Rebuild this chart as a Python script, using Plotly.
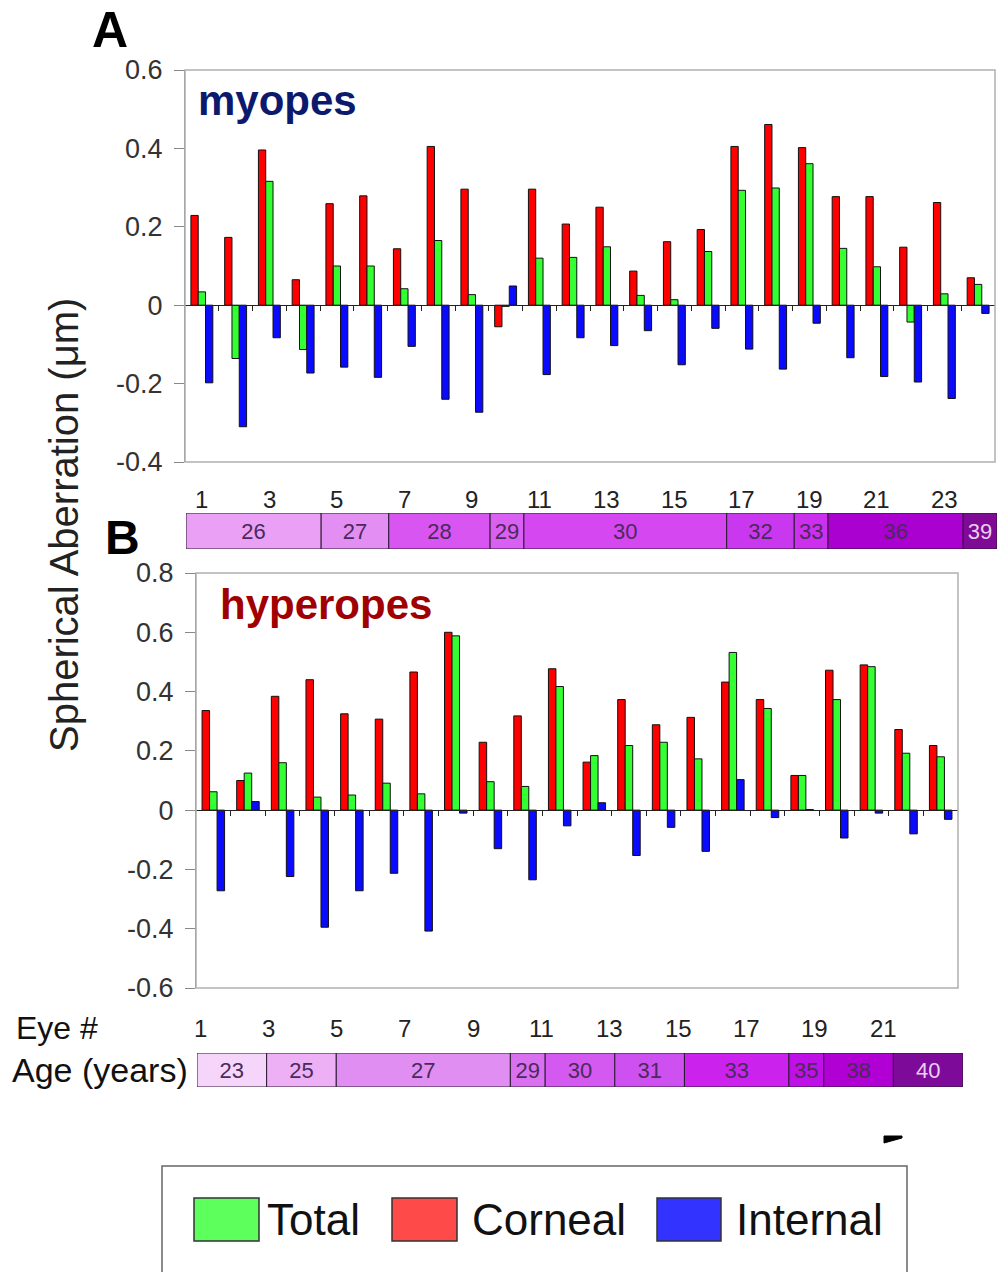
import plotly.graph_objects as go

W, H = 998, 1272

# ---------------- data ----------------
# Panel A: myopes (24 eyes)
eyes_a = list(range(1, 25))
corneal_a = [0.229, 0.173, 0.396, 0.065, 0.259, 0.279, 0.144, 0.405, 0.296, -0.055,
             0.296, 0.207, 0.250, 0.087, 0.162, 0.193, 0.405, 0.461, 0.402, 0.277,
             0.277, 0.148, 0.262, 0.070]
total_a = [0.034, -0.136, 0.316, -0.113, 0.100, 0.100, 0.042, 0.165, 0.027, -0.003,
           0.120, 0.122, 0.149, 0.025, 0.014, 0.137, 0.293, 0.299, 0.361, 0.145,
           0.098, -0.043, 0.029, 0.053]
internal_a = [-0.198, -0.310, -0.083, -0.173, -0.158, -0.184, -0.105, -0.240, -0.273, 0.049,
              -0.177, -0.083, -0.103, -0.065, -0.152, -0.059, -0.112, -0.163, -0.046, -0.134,
              -0.182, -0.196, -0.238, -0.021]
ages_a = [26, 27, 28, 29, 30, 32, 33, 36, 39]
age_counts_a = [4, 2, 3, 1, 6, 2, 1, 4, 1]

# Panel B: hyperopes (22 eyes)
eyes_b = list(range(1, 23))
corneal_b = [0.336, 0.100, 0.384, 0.440, 0.325, 0.307, 0.466, 0.600, 0.229, 0.318,
             0.477, 0.162, 0.373, 0.288, 0.313, 0.432, 0.373, 0.117, 0.472, 0.490,
             0.272, 0.218]
total_b = [0.062, 0.125, 0.160, 0.044, 0.051, 0.091, 0.055, 0.588, 0.096, 0.080,
           0.417, 0.184, 0.218, 0.229, 0.173, 0.532, 0.343, 0.117, 0.373, 0.484,
           0.192, 0.180]
internal_b = [-0.272, 0.029, -0.224, -0.395, -0.272, -0.213, -0.408, -0.010, -0.130, -0.235,
              -0.053, 0.025, -0.153, -0.058, -0.139, 0.103, -0.025, 0.002, -0.094, -0.010,
              -0.080, -0.031]
ages_b = [23, 25, 27, 29, 30, 31, 33, 35, 38, 40]
age_counts_b = [2, 2, 5, 1, 2, 2, 3, 1, 2, 2]

eye_labels = [1, 3, 5, 7, 9, 11, 13, 15, 17, 19, 21, 23]
ytick_a = [0.6, 0.4, 0.2, 0, -0.2, -0.4]
ytick_b = [0.8, 0.6, 0.4, 0.2, 0, -0.2, -0.4, -0.6]

series_names = ["Corneal", "Total", "Internal"]

# ---------------- styling ----------------
FONT = "Liberation Sans, Arial, sans-serif"
COL = {"Corneal": "#ff0000", "Total": "#33ff33", "Internal": "#0a0aff"}
LEG_COL = {"Total": "#5cff5c", "Corneal": "#ff4a4a", "Internal": "#3333ff"}
AGE_COL_A = ["#e9a0f5", "#e38ef3", "#d955f2", "#da60f3", "#d548f1", "#c938ee", "#cc30ee",
             "#aa00d0", "#7e0a96"]
AGE_COL_B = ["#f5d5fa", "#edb0f5", "#e18ef2", "#d970f0", "#d359f1", "#cf50f0", "#cc22ee",
             "#c010e8", "#b000d4", "#7e0a99"]


def px(x):
    return x / W


def py(y):
    return 1 - y / H


# panel geometry (pixels)
A_L, A_R, A_T, A_B = 185, 995, 70, 462
B_L, B_R, B_T, B_B = 196, 958, 573, 988
SA_L, SA_R, SA_T, SA_B = 186, 997, 513, 549
SB_L, SB_R, SB_T, SB_B = 197, 963, 1053, 1087

fig = go.Figure()

bar_line = dict(color="#111111", width=1)
for name, vals in zip(series_names, [corneal_a, total_a, internal_a]):
    fig.add_trace(go.Bar(x=eyes_a, y=vals, name=name, marker=dict(color=COL[name], line=bar_line),
                         xaxis="x", yaxis="y", showlegend=False))
for name, vals in zip(series_names, [corneal_b, total_b, internal_b]):
    fig.add_trace(go.Bar(x=eyes_b, y=vals, name=name, marker=dict(color=COL[name], line=bar_line),
                         xaxis="x2", yaxis="y2", showlegend=False))


def strip(ages, counts, colors, xa, ya):
    starts = []
    s = 0
    for c in counts:
        starts.append(s)
        s += c
    centers = [st + c / 2 + 0.5 for st, c in zip(starts, counts)]
    txtcol = ["#e8d0ee" if a >= 39 else "#4a2a5a" for a in ages]
    return go.Bar(x=centers, y=[1] * len(ages), width=counts, base=0,
                  marker=dict(color=colors, line=dict(color="#2a1a30", width=1)),
                  text=[str(a) for a in ages], textposition="inside",
                  insidetextanchor="middle", constraintext="none",
                  textfont=dict(family=FONT, size=22, color=txtcol),
                  xaxis=xa, yaxis=ya, showlegend=False, hoverinfo="skip")


fig.add_trace(strip(ages_a, age_counts_a, AGE_COL_A, "x3", "y3"))
fig.add_trace(strip(ages_b, age_counts_b, AGE_COL_B, "x4", "y4"))

# hidden traces to anchor zero-line tick axes
fig.add_trace(go.Scatter(x=[1], y=[0], xaxis="x5", yaxis="y", mode="markers",
                         marker=dict(opacity=0), showlegend=False, hoverinfo="skip"))
fig.add_trace(go.Scatter(x=[1], y=[0], xaxis="x6", yaxis="y2", mode="markers",
                         marker=dict(opacity=0), showlegend=False, hoverinfo="skip"))

ya_range = [-0.4, 0.6]
yb_range = [-0.6, 0.8]
na, nb = len(eyes_a), len(eyes_b)

dom_a_y = [py(A_B), py(A_T)]
dom_b_y = [py(B_B), py(B_T)]
zero_a = dom_a_y[0] + (0 - ya_range[0]) / (ya_range[1] - ya_range[0]) * (dom_a_y[1] - dom_a_y[0])
zero_b = dom_b_y[0] + (0 - yb_range[0]) / (yb_range[1] - yb_range[0]) * (dom_b_y[1] - dom_b_y[0])

tickfont = dict(family=FONT, size=27, color="#333333")


def fmt(v):
    return "0" if v == 0 else ("%g" % v)


hidden_x = dict(showgrid=False, zeroline=False, showticklabels=False, ticks="", showline=False,
                automargin=False)
hidden_y = dict(showgrid=False, zeroline=False, showticklabels=False, ticks="", showline=False,
                automargin=False)

fig.update_layout(
    width=W, height=H, margin=dict(l=0, r=0, t=0, b=0, pad=0, autoexpand=False),
    paper_bgcolor="white", plot_bgcolor="white",
    barmode="group", bargap=0.35, bargroupgap=0,
    font=dict(family=FONT),
    xaxis=dict(domain=[px(A_L), px(A_R)], range=[0.5, na + 0.5], anchor="y", **hidden_x),
    yaxis=dict(domain=dom_a_y, range=ya_range, anchor="x", tickvals=ytick_a,
               ticktext=[fmt(v) for v in ytick_a], ticks="outside", ticklen=10,
               ticklabelstandoff=6,
               tickcolor="#888888", showline=True, linecolor="#888888", linewidth=1,
               showgrid=False, zeroline=False, tickfont=tickfont, automargin=False),
    xaxis2=dict(domain=[px(B_L), px(B_R)], range=[0.5, nb + 0.5], anchor="y2", **hidden_x),
    yaxis2=dict(domain=dom_b_y, range=yb_range, anchor="x2", tickvals=ytick_b,
                ticktext=[fmt(v) for v in ytick_b], ticks="outside", ticklen=10,
                ticklabelstandoff=6,
                tickcolor="#888888", showline=True, linecolor="#888888", linewidth=1,
                showgrid=False, zeroline=False, tickfont=tickfont, automargin=False),
    xaxis3=dict(domain=[px(SA_L), px(SA_R)], range=[0.5, na + 0.5], anchor="y3", **hidden_x),
    yaxis3=dict(domain=[py(SA_B), py(SA_T)], range=[0, 1], anchor="x3", **hidden_y),
    xaxis4=dict(domain=[px(SB_L), px(SB_R)], range=[0.5, nb + 0.5], anchor="y4", **hidden_x),
    yaxis4=dict(domain=[py(SB_B), py(SB_T)], range=[0, 1], anchor="x4", **hidden_y),
    xaxis5=dict(overlaying="x", anchor="free", position=zero_a, range=[0.5, na + 0.5],
                tickvals=[i + 0.5 for i in range(1, na)], ticks="outside", ticklen=5,
                tickcolor="#222222", showticklabels=False, showline=True,
                linecolor="#222222", linewidth=1, showgrid=False, zeroline=False,
                automargin=False),
    xaxis6=dict(overlaying="x2", anchor="free", position=zero_b, range=[0.5, nb + 0.5],
                tickvals=[i + 0.5 for i in range(1, nb)], ticks="outside", ticklen=5,
                tickcolor="#222222", showticklabels=False, showline=True,
                linecolor="#222222", linewidth=1, showgrid=False, zeroline=False,
                automargin=False),
)

shapes = []
# plot frames
for (l, r, t, b) in [(A_L, A_R, A_T, A_B), (B_L, B_R, B_T, B_B)]:
    shapes.append(dict(type="rect", xref="paper", yref="paper", x0=px(l), x1=px(r),
                       y0=py(b), y1=py(t), line=dict(color="#b0b0b0", width=1.5), layer="above"))
# legend box
shapes.append(dict(type="rect", xref="paper", yref="paper", x0=px(162), x1=px(907),
                   y0=py(1276), y1=py(1166), line=dict(color="#666666", width=1.5)))
for name, (x0, x1) in zip(["Total", "Corneal", "Internal"], [(194, 259), (392, 457), (657, 721)]):
    shapes.append(dict(type="rect", xref="paper", yref="paper", x0=px(x0), x1=px(x1),
                       y0=py(1241), y1=py(1198), fillcolor=LEG_COL[name],
                       line=dict(color="#333333", width=1.5)))
# small black mark
shapes.append(dict(type="path", xref="paper", yref="paper",
                   path="M %f %f L %f %f L %f %f L %f %f Z" % (px(884), py(1136), px(902), py(1136),
                                                               px(902), py(1138), px(884), py(1143)),
                   fillcolor="black", line=dict(color="black", width=1)))
fig.update_layout(shapes=shapes)

ann = []


def text(x, y, s, size, color="#222222", xanchor="center", bold=False, angle=0, xref="paper"):
    ann.append(dict(x=x, y=y, xref=xref, yref="paper", text=("<b>%s</b>" % s) if bold else s,
                    showarrow=False, xanchor=xanchor, yanchor="middle", textangle=angle,
                    font=dict(family=FONT, size=size, color=color)))


text(px(110), py(30), "A", 50, "#000000", bold=True)
text(px(122), py(537), "B", 48, "#000000", bold=True)
text(px(196), py(101), "myopes", 42, "#0c1a6e", xanchor="left", bold=True)
text(px(218), py(604), "hyperopes", 42, "#a00000", xanchor="left", bold=True)
text(px(64), py(525), "Spherical Aberration (\u03bcm)", 40, "#222222", angle=-90)
text(px(14), py(1028), "Eye #", 32, "#111111", xanchor="left")
text(px(10), py(1070), "Age (years)", 34, "#111111", xanchor="left")

# eye numbers, panel A (at group centers)
for n in eye_labels:
    text(n, py(499), str(n), 24, "#222222", xref="x")
# eye numbers, panel B (label row drawn with its own spacing)
for i, n in enumerate(eye_labels[:-1]):
    text(px(200 + i * 68.3), py(1028), str(n), 24, "#222222")

# legend labels
for name, x0 in zip(["Total", "Corneal", "Internal"], [265, 470, 734]):
    text(px(x0), py(1219), name, 44, "#111111", xanchor="left")

fig.update_layout(annotations=ann)

fig.write_html("out.html", config={"displayModeBar": False},
               post_script="document.body.style.margin='0';")
